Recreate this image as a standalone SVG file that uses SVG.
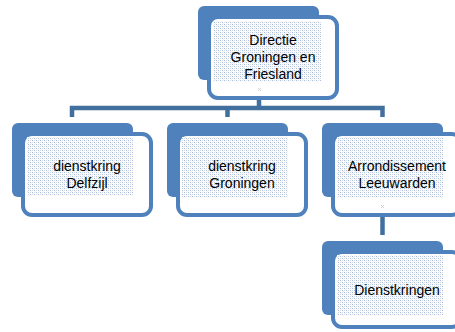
<svg xmlns="http://www.w3.org/2000/svg" width="455" height="332" viewBox="0 0 455 332">
<style>
.back{fill:#4F81BD;}
.front{fill:#FFFFFF;stroke:#4F81BD;stroke-width:4;}
.tex{fill:url(#dots);}
.lbl{font-family:"Liberation Sans","Open Sans",Arial,sans-serif;font-size:14px;fill:#000000;text-anchor:middle;}
.conn{fill:none;stroke:#41709F;stroke-width:4.5;stroke-linejoin:miter;stroke-linecap:butt;}
.mark{fill:none;stroke:#c4c8d0;stroke-width:0.8;}
</style>
<defs>
<pattern id="dots" width="4" height="4" patternUnits="userSpaceOnUse">
<rect width="4" height="4" fill="#FFFFFF"/>
<rect x="0" y="0" width="1" height="1" fill="#AABBD8"/>
<rect x="2" y="2" width="1" height="1" fill="#AABBD8"/>
<rect x="2" y="0" width="1" height="1" fill="#D0DAEB"/>
<rect x="0" y="2" width="1" height="1" fill="#D0DAEB"/>
<rect x="1" y="1" width="1" height="1" fill="#EEF2F8"/>
<rect x="3" y="3" width="1" height="1" fill="#EEF2F8"/>
</pattern>
</defs>
<g id="connectors">
<path class="conn" d="M259,100 V108"/>
<path class="conn" d="M72,117 V108 H382.5 V117"/>
<path class="conn" d="M227.5,108 V117"/>
<path class="conn" d="M382.5,215 V235"/>
</g>
<g id="node-directie">
<rect class="back" x="198" y="6" width="121" height="74" rx="6"/>
<rect class="front" x="209" y="17" width="128" height="81" rx="9"/>
<rect class="tex" x="213" y="21" width="108" height="61"/>
<text class="lbl" x="273" y="45">Directie</text>
<text class="lbl" x="273" y="62">Groningen en</text>
<text class="lbl" x="273" y="79">Friesland</text>
<path class="mark" d="M258,88 l3,3 M261,88 l-3,3"/>
</g>
<g id="node-delfzijl">
<rect class="back" x="12" y="123" width="121" height="74" rx="6"/>
<rect class="front" x="23" y="134" width="128" height="81" rx="9"/>
<rect class="tex" x="27" y="137" width="106" height="59"/>
<text class="lbl" x="87" y="171">dienstkring</text>
<text class="lbl" x="87" y="188">Delfzijl</text>
</g>
<g id="node-groningen">
<rect class="back" x="167" y="123" width="121" height="74" rx="6"/>
<rect class="front" x="178" y="134" width="128" height="81" rx="9"/>
<rect class="tex" x="182" y="137" width="106" height="61"/>
<text class="lbl" x="242" y="171">dienstkring</text>
<text class="lbl" x="242" y="188">Groningen</text>
</g>
<g id="node-arrondissement">
<rect class="back" x="322" y="123" width="121" height="74" rx="6"/>
<rect class="front" x="333" y="134" width="128" height="81" rx="9"/>
<rect class="tex" x="337" y="137" width="106" height="61"/>
<text class="lbl" x="397" y="171">Arrondissement</text>
<text class="lbl" x="397" y="188">Leeuwarden</text>
<path class="mark" d="M381,205 l3,3 M384,205 l-3,3"/>
</g>
<g id="node-dienstkringen">
<rect class="back" x="322" y="241" width="121" height="74" rx="6"/>
<rect class="front" x="333" y="252" width="128" height="75" rx="9"/>
<rect class="tex" x="337" y="255" width="106" height="61"/>
<text class="lbl" x="397" y="295">Dienstkringen</text>
</g>
</svg>
